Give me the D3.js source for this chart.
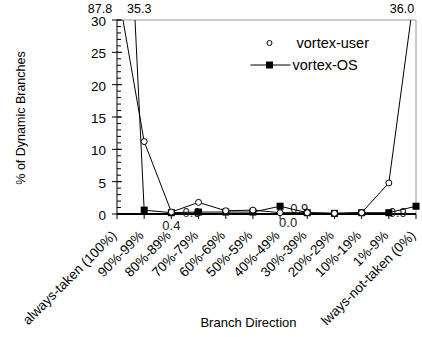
<!DOCTYPE html>
<html>
<head>
<meta charset="utf-8">
<script src="https://cdn.jsdelivr.net/npm/d3@7"></script>
<style>
  body { margin: 0; background: #fff; }
  text { font-family: "Liberation Sans", Arial, sans-serif; }
</style>
</head>
<body>
<div id="chart"></div>
<script>
var categories = ["always-taken (100%)", "90%-99%", "80%-89%", "70%-79%", "60%-69%", "50%-59%",
                  "40%-49%", "30%-39%", "20%-29%", "10%-19%", "1%-9%", "lways-not-taken (0%)"];
var userValues = [35.3, 11.2, 0.3, 1.8, 0.5, 0.6, 0.2, 0.2, 0.1, 0.2, 4.8, 36.0];
var osValues   = [87.8, 0.6, 0.2, 0.3, 0.3, 0.3, 1.2, 0.2, 0.1, 0.2, 0.2, 1.2];
var yTicks = [0, 5, 10, 15, 20, 25, 30];
// value labels as printed on the chart: [category index, text, dx, dy]
var notes = [[0, "87.8", -17, -7], [1, "35.3", -5, -7], [11, "36.0", -14, -7]];
var pointNotes = [[2, "0.4", 0, 16], [3, "0.6", -7, 3], [6, "0.0", 8, 13], [7, "0.9", -8, -1], [10, "0.9", 9, 3]];

var margin = {top: 20, right: 6, bottom: 123, left: 117},
    width = 422 - margin.left - margin.right,
    height = 337 - margin.top - margin.bottom;

var svg = d3.select("#chart")
  .append("svg")
    .attr("width", width + margin.left + margin.right)
    .attr("height", height + margin.top + margin.bottom)
  .append("g")
    .attr("transform", "translate(" + margin.left + "," + margin.top + ")");

var x = d3.scalePoint()
    .domain(categories)
    .range([0, width]);

var y = d3.scaleLinear()
    .domain([0, 30])
    .range([height, 0]);

svg.append("clipPath")
    .attr("id", "clip")
  .append("rect")
    .attr("x", -2)
    .attr("y", 0)
    .attr("width", width + 6)
    .attr("height", height + 10);

// frame top and right
svg.append("line")
    .attr("x1", 0).attr("x2", width)
    .attr("y1", 0).attr("y2", 0)
    .attr("stroke", "#999");
svg.append("line")
    .attr("x1", width).attr("x2", width)
    .attr("y1", 0).attr("y2", height)
    .attr("stroke", "#999");

// y axis
var yAxis = svg.append("g");
yAxis.append("line")
    .attr("x1", 0).attr("x2", 0)
    .attr("y1", 0).attr("y2", height)
    .attr("stroke", "#000");
yAxis.selectAll(".minor")
    .data(d3.range(0, 31))
    .enter()
    .append("line")
      .attr("x1", 0).attr("x2", 4)
      .attr("y1", function(d) { return y(d); })
      .attr("y2", function(d) { return y(d); })
      .attr("stroke", "#000");
yAxis.selectAll(".major")
    .data(yTicks)
    .enter()
    .append("line")
      .attr("x1", -5).attr("x2", 5)
      .attr("y1", function(d) { return y(d); })
      .attr("y2", function(d) { return y(d); })
      .attr("stroke", "#000");
yAxis.selectAll(".lbl")
    .data(yTicks)
    .enter()
    .append("text")
      .attr("x", -11)
      .attr("y", function(d) { return y(d); })
      .attr("dy", "0.45em")
      .attr("text-anchor", "end")
      .attr("font-size", "13.5px")
      .text(function(d) { return d; });

// x axis
var xAxis = svg.append("g")
    .attr("transform", "translate(0," + height + ")");
xAxis.append("line")
    .attr("x1", 0).attr("x2", width)
    .attr("stroke", "#000")
    .attr("stroke-width", 2);
xAxis.selectAll(".tick")
    .data(categories)
    .enter()
    .append("line")
      .attr("x1", function(d) { return x(d); })
      .attr("x2", function(d) { return x(d); })
      .attr("y1", 0).attr("y2", 5)
      .attr("stroke", "#000");
xAxis.selectAll(".cat")
    .data(categories)
    .enter()
    .append("text")
      .attr("transform", function(d) { return "translate(" + (x(d) - 3) + ",19) rotate(-45)"; })
      .attr("text-anchor", "end")
      .attr("dy", "0.35em")
      .attr("font-size", "13.5px")
      .text(function(d) { return d; });

svg.append("text")
    .attr("x", width / 2 - 18)
    .attr("y", height + 113)
    .attr("text-anchor", "middle")
    .attr("font-size", "13px")
    .text("Branch Direction");

svg.append("text")
    .attr("transform", "rotate(-90)")
    .attr("x", -98)
    .attr("y", -92)
    .attr("text-anchor", "middle")
    .attr("font-size", "12.5px")
    .text("% of Dynamic Branches");

// point labels sit under the marks
svg.selectAll(".pnote")
    .data(pointNotes)
    .enter()
    .append("text")
      .attr("x", function(d) { return x(categories[d[0]]) + d[2]; })
      .attr("y", function(d) { return height + d[3]; })
      .attr("text-anchor", "middle")
      .attr("font-size", "13px")
      .attr("fill", "#222")
      .text(function(d) { return d[1]; });

var line = function(vals) {
  return d3.line()
    .x(function(d, i) { return x(categories[i]); })
    .y(function(d) { return y(d); })(vals);
};

var plot = svg.append("g").attr("clip-path", "url(#clip)");

plot.append("path")
    .attr("d", line(osValues))
    .attr("fill", "none")
    .attr("stroke", "#000");
plot.append("path")
    .attr("d", line(userValues))
    .attr("fill", "none")
    .attr("stroke", "#000");

plot.selectAll(".sq")
    .data(osValues)
    .enter()
    .append("rect")
      .attr("x", function(d, i) { return x(categories[i]) - 3.5; })
      .attr("y", function(d) { return y(d) - 3.5; })
      .attr("width", 7)
      .attr("height", 7)
      .attr("fill", "#000");
plot.selectAll(".ci")
    .data(userValues)
    .enter()
    .append("circle")
      .attr("cx", function(d, i) { return x(categories[i]); })
      .attr("cy", function(d) { return y(d); })
      .attr("r", 3)
      .attr("fill", "#fff")
      .attr("stroke", "#000");

// clipped value labels at top
svg.selectAll(".note")
    .data(notes)
    .enter()
    .append("text")
      .attr("x", function(d) { return x(categories[d[0]]) + d[2]; })
      .attr("y", function(d) { return d[3]; })
      .attr("text-anchor", "middle")
      .attr("font-size", "12.5px")
      .text(function(d) { return d[1]; });

// legend
var legend = svg.append("g").attr("transform", "translate(" + (width * 0.51) + ",23)");
legend.append("circle")
    .attr("cx", 0).attr("cy", 0).attr("r", 2.5)
    .attr("fill", "#fff").attr("stroke", "#000");
legend.append("text")
    .attr("x", 27).attr("y", 0).attr("dy", "0.35em")
    .attr("font-size", "14.5px")
    .text("vortex-user");
legend.append("line")
    .attr("x1", -19).attr("x2", 21)
    .attr("y1", 22).attr("y2", 22)
    .attr("stroke", "#000");
legend.append("rect")
    .attr("x", -3.5).attr("y", 18.5).attr("width", 7).attr("height", 7)
    .attr("fill", "#000");
legend.append("text")
    .attr("x", 23).attr("y", 22).attr("dy", "0.35em")
    .attr("font-size", "14.5px")
    .text("vortex-OS");
</script>
</body>
</html>
